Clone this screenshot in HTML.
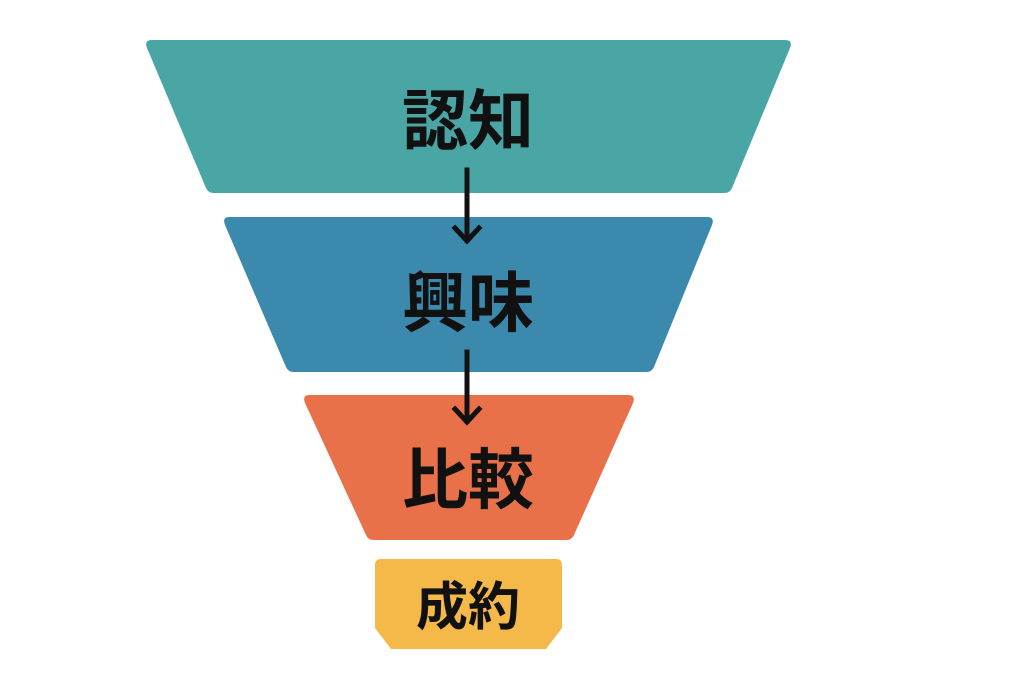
<!DOCTYPE html>
<html><head><meta charset="utf-8"><style>
html,body{margin:0;padding:0;background:#fff}
svg{display:block}
text{font-family:"Liberation Sans","Noto Sans CJK JP",sans-serif;font-weight:700;fill:#111;text-anchor:middle}
</style></head><body>
<svg width="1024" height="683" viewBox="0 0 1024 683" xmlns="http://www.w3.org/2000/svg">
<path d="M152 40 L785 40 Q793 40 790 48 L732 188 Q730 193 724 193 L214 193 Q208 193 206 188 L147 48 Q144 40 152 40 Z" fill="#4aa6a5"/>
<path d="M229 217 L707 217 Q715 217 712 225 L654 367 Q652 372 646 372 L294 372 Q288 372 286 367 L225 225 Q222 217 229 217 Z" fill="#3b8aad"/>
<path d="M309 395 L628 395 Q636 395 633 403 L574 535 Q572 540 566 540 L374 540 Q368 540 366 535 L305 403 Q302 395 309 395 Z" fill="#e8714a"/>
<path d="M381 559 L556 559 Q562 559 562 565 L562 628 L546 649 L391 649 L375 628 L375 565 Q375 559 381 559 Z" fill="#f5b94a"/>
<g stroke="#111" stroke-width="5" fill="none" stroke-linecap="square">
<line x1="467" y1="170" x2="467" y2="240"/>
<polyline points="455,228 467,241 479,228"/>
<line x1="467" y1="352" x2="467" y2="421"/>
<polyline points="455,409 467,422 479,409"/>
</g>
<text x="468" y="144" font-size="66">認知</text>
<text x="468" y="326" font-size="66">興味</text>
<text x="468" y="503" font-size="66">比較</text>
<text x="468" y="625" font-size="52">成約</text>
</svg>
</body></html>
